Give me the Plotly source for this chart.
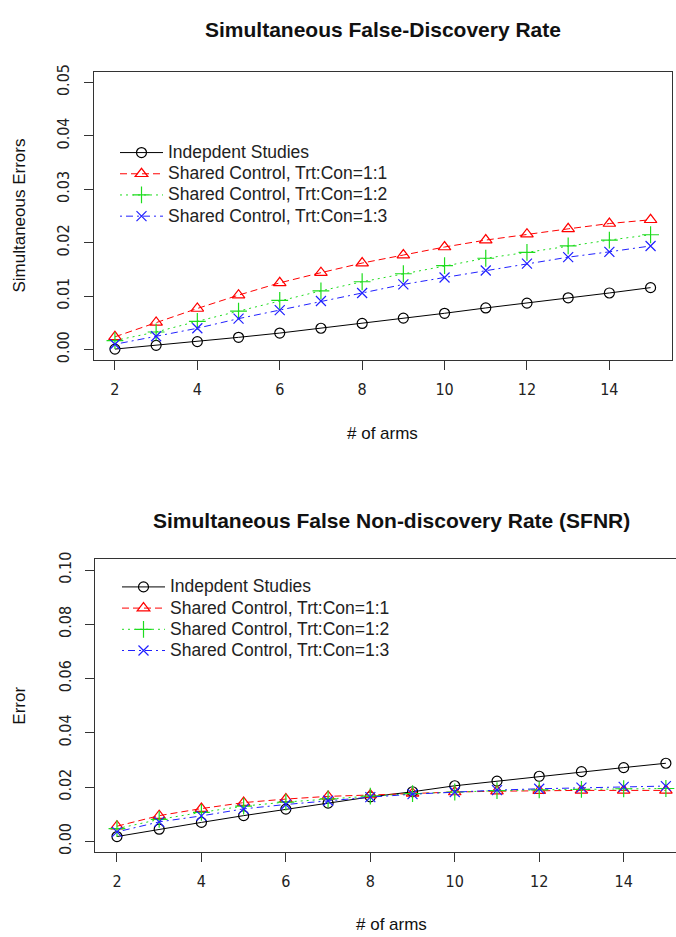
import plotly.graph_objects as go

arms = [2, 3, 4, 5, 6, 7, 8, 9, 10, 11, 12, 13, 14, 15]
series_names = ["Indepdent Studies", "Shared Control, Trt:Con=1:1",
                "Shared Control, Trt:Con=1:2", "Shared Control, Trt:Con=1:3"]

# Simultaneous False-Discovery Rate
sfdr_indep = [0.0001, 0.0008, 0.0015, 0.0023, 0.0031, 0.0040, 0.0049, 0.0059, 0.0068, 0.0078, 0.0087, 0.0097, 0.0106, 0.0116]
sfdr_11 = [0.0024, 0.0051, 0.0077, 0.0102, 0.0125, 0.0144, 0.0162, 0.0177, 0.0192, 0.0205, 0.0216, 0.0226, 0.0236, 0.0243]
sfdr_12 = [0.0017, 0.0033, 0.0053, 0.0072, 0.0092, 0.0110, 0.0127, 0.0142, 0.0157, 0.0171, 0.0182, 0.0194, 0.0205, 0.0215]
sfdr_13 = [0.0010, 0.0025, 0.0040, 0.0058, 0.0074, 0.0091, 0.0106, 0.0122, 0.0135, 0.0148, 0.0161, 0.0173, 0.0183, 0.0194]

# Simultaneous False Non-discovery Rate
sfnr_indep = [0.0018, 0.0045, 0.0070, 0.0095, 0.0119, 0.0141, 0.0164, 0.0183, 0.0205, 0.0222, 0.0240, 0.0257, 0.0272, 0.0288]
sfnr_11 = [0.0056, 0.0095, 0.0121, 0.0143, 0.0156, 0.0166, 0.0171, 0.0177, 0.0182, 0.0185, 0.0187, 0.0188, 0.0188, 0.0188]
sfnr_12 = [0.0047, 0.0081, 0.0107, 0.0130, 0.0145, 0.0157, 0.0167, 0.0176, 0.0182, 0.0187, 0.0190, 0.0192, 0.0194, 0.0195]
sfnr_13 = [0.0035, 0.0072, 0.0094, 0.0120, 0.0136, 0.0150, 0.0163, 0.0174, 0.0182, 0.0189, 0.0194, 0.0198, 0.0201, 0.0204]

x_ticks = [2, 4, 6, 8, 10, 12, 14]
y_ticks_top = [0.00, 0.01, 0.02, 0.03, 0.04, 0.05]
y_ticks_bot = [0.00, 0.02, 0.04, 0.06, 0.08, 0.10]

W, H = 676, 937
FONT = "Liberation Sans, Arial, sans-serif"
TICKFONT = "Liberation Sans Narrow, DejaVu Sans Condensed, Liberation Sans, Arial, sans-serif"

colors = ["#000000", "#FF0000", "#1EDC1E", "#2020FF"]
symbols = ["circle-open", "triangle-up-open", "cross-thin-open", "x-thin-open"]
dashes = ["solid", "7px,4px", "2px,4px", "2px,4px,7px,4px"]
msizes = [10, 11, 12, 10]

fig = go.Figure()
for panel, (data, xa, ya, leg) in enumerate([
        ([sfdr_indep, sfdr_11, sfdr_12, sfdr_13], "x", "y", "legend"),
        ([sfnr_indep, sfnr_11, sfnr_12, sfnr_13], "x2", "y2", "legend2")]):
    for i, vals in enumerate(data):
        fig.add_trace(go.Scatter(
            x=arms, y=vals, mode="lines+markers",
            name=f'<span style="font-size:17.5px">{series_names[i]}</span>',
            xaxis=xa, yaxis=ya, legend=leg,
            line=dict(color=colors[i], width=1, dash=dashes[i]),
            marker=dict(symbol=symbols[i], size=msizes[i], color=colors[i],
                        line=dict(width=1.2, color=colors[i])),
        ))

def px_x(p):
    return p / W

def px_y(p):
    return 1 - p / H

axis_common = dict(showgrid=False, zeroline=False, showline=True, linecolor="#333",
                   linewidth=1, ticks="outside", ticklen=9, tickcolor="#333",
                   tickfont=dict(family=TICKFONT, size=16, color="#222"))

fig.update_layout(
    width=W, height=H, autosize=False,
    margin=dict(l=0, r=0, t=0, b=0),
    paper_bgcolor="white", plot_bgcolor="white",
    font=dict(family=FONT, color="#222"),
    xaxis=dict(domain=[px_x(93.5), px_x(672)], range=[1.48, 15.52], anchor="y",
               tickvals=x_ticks, mirror=True, ticklabelstandoff=5, **axis_common),
    yaxis=dict(domain=[px_y(356.5), px_y(64.5)], range=[-0.002, 0.052], anchor="x",
               tickvals=y_ticks_top, tickformat=".2f", tickangle=-90, mirror=True,
               ticklabelstandoff=8, **axis_common),
    xaxis2=dict(domain=[px_x(95), 1.0], range=[1.48, 2 + (676 - 117.3) / 42.2], anchor="y2",
                tickvals=x_ticks, mirror=True, ticklabelstandoff=6, **axis_common),
    yaxis2=dict(domain=[px_y(854.3), px_y(557.7)], range=[-0.004, 0.104], anchor="x2",
                tickvals=y_ticks_bot, tickformat=".2f", tickangle=-90, mirror=False,
                ticklabelstandoff=8, **axis_common),
    legend=dict(x=px_x(115), y=px_y(130.5), xanchor="left", yanchor="top",
                bgcolor="rgba(0,0,0,0)", itemwidth=43, tracegroupgap=0,
                font=dict(family=FONT, size=14, color="#222")),
    legend2=dict(x=px_x(117), y=px_y(570), xanchor="left", yanchor="top",
                 bgcolor="rgba(0,0,0,0)", itemwidth=43, tracegroupgap=0,
                 font=dict(family=FONT, size=14, color="#222")),
)

ann = [
    dict(text="<b>Simultaneous False-Discovery Rate</b>", x=px_x(383), y=px_y(22), size=21, angle=0),
    dict(text="<b>Simultaneous False Non-discovery Rate (SFNR)</b>", x=px_x(391), y=px_y(519), size=21, angle=0),
    dict(text="# of arms", x=px_x(383), y=px_y(431), size=17, angle=0),
    dict(text="# of arms", x=px_x(391), y=px_y(927), size=17, angle=0),
    dict(text="Simultaneous Errors", x=px_x(20), y=px_y(210), size=17, angle=-90),
    dict(text="Error", x=px_x(20), y=px_y(706), size=17, angle=-90),
]
for a in ann:
    fig.add_annotation(text=a["text"], x=a["x"], y=a["y"], xref="paper", yref="paper",
                       xanchor="center", yanchor="middle", showarrow=False,
                       textangle=a["angle"], font=dict(family=FONT, size=a["size"], color="#111"))

fig.write_html("out.html", config={"displayModeBar": False},
               post_script="document.body.style.margin='0';document.body.style.padding='0';")
